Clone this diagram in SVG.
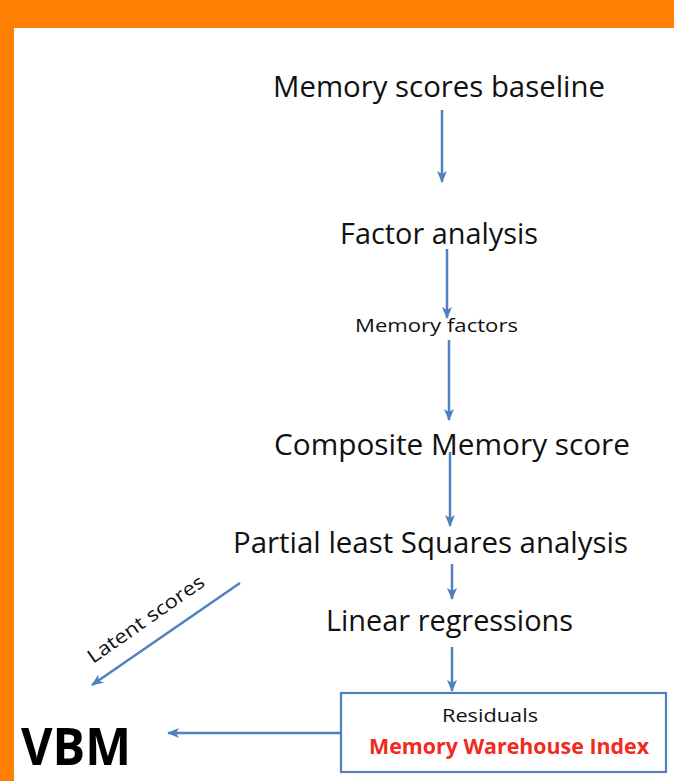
<svg xmlns="http://www.w3.org/2000/svg" width="674" height="781" viewBox="0 0 674 781">
  <defs>
    <style>
      .frame { fill: #ff7f00; }
      .link { stroke: #4f81bd; stroke-width: 2.5; fill: none; marker-end: url(#head); }
      .big { font-family: "Open Sans", "Liberation Sans", sans-serif; font-size: 29px; fill: #111; }
      .small { font-family: "Open Sans", "Liberation Sans", sans-serif; font-size: 19px; fill: #111; }
      .mwi { font-family: "Open Sans", "Liberation Sans", sans-serif; font-size: 21px; font-weight: bold; fill: #f22a1c; }
      .vbm { font-family: "Open Sans", "Liberation Sans", sans-serif; font-size: 52px; font-weight: bold; fill: #000; }
      .box { fill: #fff; stroke: #4f81bd; stroke-width: 2.2; }
    </style>
    <marker id="head" viewBox="0 0 12 10" refX="11" refY="5" markerWidth="12" markerHeight="10" markerUnits="userSpaceOnUse" orient="auto">
      <path d="M0,0 L12,5 L0,10 L3,5 Z" fill="#4f81bd"/>
    </marker>
  </defs>

  <rect width="674" height="781" fill="#fff"/>
  <!-- orange frame: top band and left strip -->
  <rect class="frame" x="0" y="0" width="674" height="28"/>
  <rect class="frame" x="0" y="0" width="14" height="781"/>

  <!-- connectors -->
  <g id="connectors">
    <line class="link" x1="442" y1="110" x2="442" y2="182"/>
    <line class="link" x1="447" y1="249" x2="447" y2="318"/>
    <line class="link" x1="449" y1="340" x2="449" y2="420"/>
    <line class="link" x1="450" y1="452" x2="450" y2="526"/>
    <line class="link" x1="452" y1="564" x2="452" y2="599"/>
    <line class="link" x1="452" y1="647" x2="452" y2="691"/>
    <line class="link" x1="240" y1="583" x2="92" y2="685"/>
    <line class="link" x1="340" y1="733" x2="168" y2="733"/>
    <text class="small" x="93" y="664" transform="rotate(-35 93 664)" textLength="138" lengthAdjust="spacingAndGlyphs">Latent scores</text>
  </g>

  <g id="memory-scores-baseline">
    <text class="big" x="273" y="97" textLength="332" lengthAdjust="spacingAndGlyphs">Memory scores baseline</text>
  </g>
  <g id="factor-analysis">
    <text class="big" x="340" y="244" textLength="198" lengthAdjust="spacingAndGlyphs">Factor analysis</text>
  </g>
  <g id="memory-factors">
    <text class="small" x="355" y="332" textLength="163" lengthAdjust="spacingAndGlyphs">Memory factors</text>
  </g>
  <g id="composite-memory-score">
    <text class="big" x="274" y="455" textLength="356" lengthAdjust="spacingAndGlyphs">Composite Memory score</text>
  </g>
  <g id="pls-analysis">
    <text class="big" x="233" y="553" textLength="395" lengthAdjust="spacingAndGlyphs">Partial least Squares analysis</text>
  </g>
  <g id="linear-regressions">
    <text class="big" x="326" y="631" textLength="247" lengthAdjust="spacingAndGlyphs">Linear regressions</text>
  </g>
  <g id="residuals">
    <rect class="box" x="341" y="693" width="325" height="79"/>
    <text class="small" x="442" y="722" textLength="96" lengthAdjust="spacingAndGlyphs">Residuals</text>
    <text class="mwi" x="369" y="754" textLength="280" lengthAdjust="spacingAndGlyphs">Memory Warehouse Index</text>
  </g>
  <g id="vbm">
    <text class="vbm" x="21" y="765" textLength="110" lengthAdjust="spacingAndGlyphs">VBM</text>
  </g>
</svg>
